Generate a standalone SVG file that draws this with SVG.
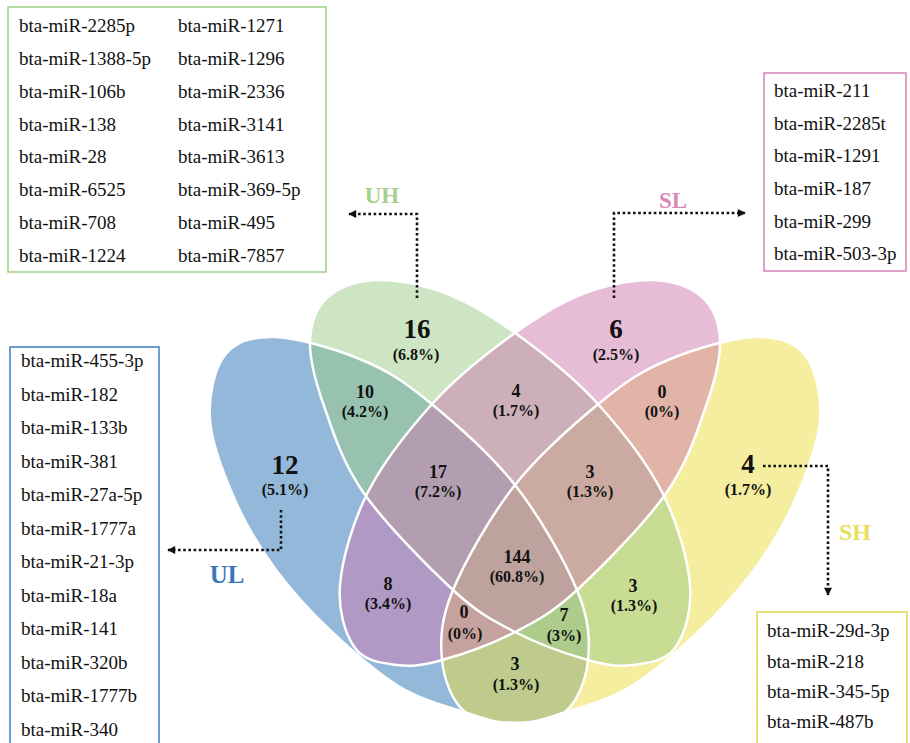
<svg xmlns="http://www.w3.org/2000/svg" xmlns:xlink="http://www.w3.org/1999/xlink" width="910" height="743" viewBox="0 0 910 743">
<style>
.item{font-family:"Liberation Serif","Times New Roman",serif;font-size:19px;fill:#111}
.n{font-family:"Liberation Serif","Times New Roman",serif;font-weight:bold;font-size:18px;fill:#111;text-anchor:middle}
.nb{font-family:"Liberation Serif","Times New Roman",serif;font-weight:bold;font-size:27px;fill:#111;text-anchor:middle}
.p{font-family:"Liberation Serif","Times New Roman",serif;font-weight:bold;font-size:16px;fill:#111;text-anchor:middle}
.lab{font-family:"Liberation Serif","Times New Roman",serif;font-weight:bold;text-anchor:middle}
.box{fill:#fff;stroke-width:1.6}
.fill{fill-opacity:0.5;stroke:none}
.outline{fill:none;stroke:#fff;stroke-width:2.5}
.conn{fill:none;stroke:#111;stroke-width:2.6;stroke-dasharray:2.6 2.6}
</style>
<defs>
<marker id="arr" viewBox="0 0 10 10" refX="9" refY="5" markerWidth="9" markerHeight="8" markerUnits="userSpaceOnUse" orient="auto">
<path d="M0,0 L10,5 L0,10 z" fill="#111"/>
</marker>
<path id="shapeBlue" d="M275,337 C297.8,337.8 336.5,349.3 362,360 C387.5,370.7 402.5,380.2 428,401 C453.5,421.8 490.2,453.5 515,485 C539.8,516.5 564.8,560.8 577,590 C589.2,619.2 590,639.7 588,660 C586,680.3 577.5,701.5 565,712 C552.5,722.5 529.3,722.8 513,723 C496.7,723.2 485.8,719 467,713 C448.2,707 422.3,700.3 400,687 C377.7,673.7 353.7,652.5 333,633 C312.3,613.5 292.3,592.2 276,570 C259.7,547.8 246,525 235,500 C224,475 211.7,444.2 210,420 C208.3,395.8 214.2,368.8 225,355 C235.8,341.2 252.2,336.2 275,337 Z"/>
<path id="shapeGreen" d="M378,280 C398.3,279.7 426,285.3 450,295 C474,304.7 497.5,320 522,338 C546.5,356 573.7,377.3 597,403 C620.3,428.7 646.5,461.7 662,492 C677.5,522.3 687.8,559 690,585 C692.2,611 684.5,634.7 675,648 C665.5,661.3 647.5,663 633,665 C618.5,667 607.7,665.5 588,660 C568.3,654.5 537.5,643.7 515,632 C492.5,620.3 478.3,613.3 453,590 C427.7,566.7 384.7,523.2 363,492 C341.3,460.8 331.8,428.3 323,403 C314.2,377.7 309.2,357.7 310,340 C310.8,322.3 316.7,307 328,297 C338.8,287 357.7,280.3 378,280 Z"/>
</defs>
<rect width="910" height="743" fill="#fff"/>

<g id="venn">
<g id="set-UL"><use xlink:href="#shapeBlue" class="fill" fill="#2771b3"/></g>
<g id="set-SH"><use xlink:href="#shapeBlue" class="fill" fill="#ebdd3f" transform="matrix(-1 0 0 1 1030 0)"/></g>
<g id="set-UH"><use xlink:href="#shapeGreen" class="fill" fill="#9bcb87"/></g>
<g id="set-SL"><use xlink:href="#shapeGreen" class="fill" fill="#cd79af" transform="matrix(-1 0 0 1 1030 0)"/></g>
<g id="outlines">
<use xlink:href="#shapeBlue" class="outline"/>
<use xlink:href="#shapeBlue" class="outline" transform="matrix(-1 0 0 1 1030 0)"/>
<use xlink:href="#shapeGreen" class="outline"/>
<use xlink:href="#shapeGreen" class="outline" transform="matrix(-1 0 0 1 1030 0)"/>
</g>
</g>

<g id="counts">
<text class="nb" x="417" y="338">16</text><text class="p" x="416" y="360">(6.8%)</text>
<text class="nb" x="616" y="338">6</text><text class="p" x="616" y="360">(2.5%)</text>
<text class="nb" x="285" y="474">12</text><text class="p" x="285" y="495">(5.1%)</text>
<text class="nb" x="748" y="473">4</text><text class="p" x="748" y="495">(1.7%)</text>
<text class="n" x="365" y="398">10</text><text class="p" x="365" y="417">(4.2%)</text>
<text class="n" x="516" y="397">4</text><text class="p" x="516" y="416">(1.7%)</text>
<text class="n" x="662" y="398">0</text><text class="p" x="662" y="417">(0%)</text>
<text class="n" x="438" y="478">17</text><text class="p" x="438" y="497">(7.2%)</text>
<text class="n" x="590" y="478">3</text><text class="p" x="590" y="497">(1.3%)</text>
<text class="n" x="517" y="563">144</text><text class="p" x="517" y="582">(60.8%)</text>
<text class="n" x="388" y="590">8</text><text class="p" x="388" y="609">(3.4%)</text>
<text class="n" x="633" y="592">3</text><text class="p" x="634" y="611">(1.3%)</text>
<text class="n" x="464" y="618">0</text><text class="p" x="465" y="639">(0%)</text>
<text class="n" x="564" y="621">7</text><text class="p" x="564" y="641">(3%)</text>
<text class="n" x="515" y="670">3</text><text class="p" x="516" y="690">(1.3%)</text>
</g>

<g id="connectors">
<path class="conn" d="M417,298 V214 H349" marker-end="url(#arr)"/>
<path class="conn" d="M614,298 V213 H745" marker-end="url(#arr)"/>
<path class="conn" d="M281,510 V550 H168" marker-end="url(#arr)"/>
<path class="conn" d="M763,466 H828 V595" marker-end="url(#arr)"/>
</g>

<g id="labels">
<text class="lab" x="382" y="203" font-size="23" fill="#a6d08c">UH</text>
<text class="lab" x="673" y="208" font-size="23" fill="#d98ab9">SL</text>
<text class="lab" x="227" y="583" font-size="25" fill="#3a77b8">UL</text>
<text class="lab" x="855" y="540" font-size="24" fill="#e9df5e">SH</text>
</g>

<g id="box-UH">
<rect class="box" x="8" y="7" width="318" height="265" stroke="#a6d08c"/>
<text class="item" x="19" y="32">bta-miR-2285p</text>
<text class="item" x="19" y="65">bta-miR-1388-5p</text>
<text class="item" x="19" y="98">bta-miR-106b</text>
<text class="item" x="19" y="131">bta-miR-138</text>
<text class="item" x="19" y="163">bta-miR-28</text>
<text class="item" x="19" y="196">bta-miR-6525</text>
<text class="item" x="19" y="229">bta-miR-708</text>
<text class="item" x="19" y="262">bta-miR-1224</text>
<text class="item" x="178" y="32">bta-miR-1271</text>
<text class="item" x="178" y="65">bta-miR-1296</text>
<text class="item" x="178" y="98">bta-miR-2336</text>
<text class="item" x="178" y="131">bta-miR-3141</text>
<text class="item" x="178" y="163">bta-miR-3613</text>
<text class="item" x="178" y="196">bta-miR-369-5p</text>
<text class="item" x="178" y="229">bta-miR-495</text>
<text class="item" x="178" y="262">bta-miR-7857</text>
</g>

<g id="box-SL">
<rect class="box" x="764" y="73" width="142" height="198" stroke="#d98ab9"/>
<text class="item" x="774" y="97">bta-miR-211</text>
<text class="item" x="774" y="129.5">bta-miR-2285t</text>
<text class="item" x="774" y="162">bta-miR-1291</text>
<text class="item" x="774" y="195">bta-miR-187</text>
<text class="item" x="774" y="227.5">bta-miR-299</text>
<text class="item" x="774" y="260">bta-miR-503-3p</text>
</g>

<g id="box-UL">
<rect class="box" x="10" y="347" width="149" height="400" stroke="#4a86c5"/>
<text class="item" x="21" y="367">bta-miR-455-3p</text>
<text class="item" x="21" y="400.5">bta-miR-182</text>
<text class="item" x="21" y="434">bta-miR-133b</text>
<text class="item" x="21" y="467.5">bta-miR-381</text>
<text class="item" x="21" y="501">bta-miR-27a-5p</text>
<text class="item" x="21" y="534.5">bta-miR-1777a</text>
<text class="item" x="21" y="568">bta-miR-21-3p</text>
<text class="item" x="21" y="601.5">bta-miR-18a</text>
<text class="item" x="21" y="635">bta-miR-141</text>
<text class="item" x="21" y="668.5">bta-miR-320b</text>
<text class="item" x="21" y="702">bta-miR-1777b</text>
<text class="item" x="21" y="735.5">bta-miR-340</text>
</g>

<g id="box-SH">
<rect class="box" x="757" y="612" width="150" height="136" stroke="#e3d650"/>
<text class="item" x="767" y="637">bta-miR-29d-3p</text>
<text class="item" x="767" y="667.5">bta-miR-218</text>
<text class="item" x="767" y="698">bta-miR-345-5p</text>
<text class="item" x="767" y="728">bta-miR-487b</text>
</g>
</svg>
